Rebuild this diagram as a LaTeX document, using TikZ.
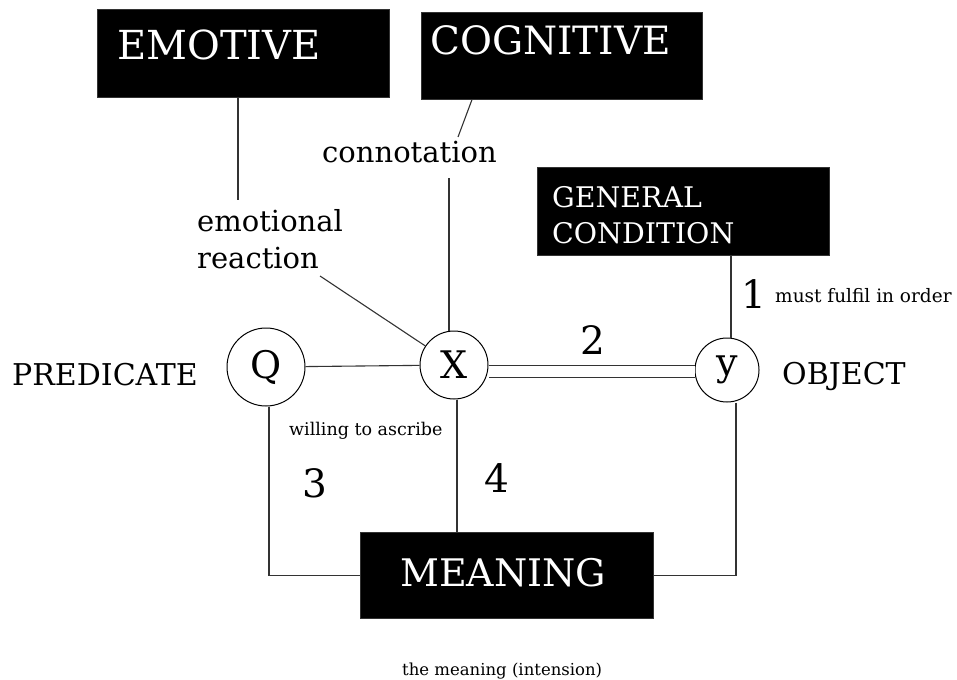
\documentclass[tikz,border=0pt]{standalone}
\usepackage{fontspec}
\setmainfont{DejaVu Serif}
\usetikzlibrary{calc}
\tikzset{
  blackbox/.style={fill=black, draw=black!80, line width=0.6pt, inner sep=0pt, anchor=north west},
  boxtext/.style={text=white, inner sep=0pt, anchor=base west},
  plain/.style={inner sep=0pt, anchor=base west},
  term/.style={draw, circle, line width=1pt, inner sep=0pt, font=\fontsize{38}{38}\selectfont},
  link/.style={line width=1.1pt, black!80},
  dbl/.style={double=white, double distance=11pt, line width=1.1pt, black!80},
}
\begin{document}
\begin{tikzpicture}[x=1pt, y=-1pt]
\useasboundingbox (0,0) rectangle (957,679);

% top boxes
\node[blackbox, minimum width=292pt, minimum height=88pt] (emotive) at (97,9) {};
\node[boxtext, font=\fontsize{40}{40}\selectfont] (emotivetxt) at (117,60) {EMOTIVE};
\node[blackbox, minimum width=281pt, minimum height=87pt] (cognitive) at (421,12) {};
\node[boxtext, font=\fontsize{39}{39}\selectfont] (cognitivetxt) at (430,55) {COGNITIVE};
\node[blackbox, minimum width=292pt, minimum height=88pt] (gc) at (537,167) {};
\node[boxtext, font=\fontsize{28.4}{28.4}\selectfont] (gc1) at (552,207) {GENERAL};
\node[boxtext, font=\fontsize{28.4}{28.4}\selectfont] (gc2) at (552,243) {CONDITION};

% meaning box
\node[blackbox, minimum width=293pt, minimum height=86pt] (meaning) at (360,532) {};
\node[boxtext, font=\fontsize{38}{38}\selectfont] (meaningtxt) at (400,586) {MEANING};

% terms
\node[term, minimum size=78pt] (Q) at (266,367) {Q};
\node[term, minimum size=68pt] (X) at (454,365) {X};
\node[term, minimum size=64pt] (Y) at (727,370) {y};

% labels
\node[plain, font=\fontsize{30}{30}\selectfont] (pred) at (12,385) {PREDICATE};
\node[plain, font=\fontsize{30}{30}\selectfont] (obj) at (782,384) {OBJECT};
\node[plain, font=\fontsize{29}{29}\selectfont] (conn) at (322,162) {connotation};
\node[plain, font=\fontsize{29}{29}\selectfont] (emo1) at (197,231) {emotional};
\node[plain, font=\fontsize{29}{29}\selectfont] (emo2) at (197,268) {reaction};
\node[plain, font=\fontsize{39}{39}\selectfont] (n1) at (741,308) {1};
\node[plain, font=\fontsize{39}{39}\selectfont] (n2) at (580,354) {2};
\node[plain, font=\fontsize{39}{39}\selectfont] (n3) at (302,497) {3};
\node[plain, font=\fontsize{39}{39}\selectfont] (n4) at (484,492) {4};
\node[plain, font=\fontsize{18.5}{18.5}\selectfont] (must) at (775,302) {must fulfil in order};
\node[plain, font=\fontsize{17.5}{17.5}\selectfont] (will) at (289,435) {willing to ascribe};
\node[plain, font=\fontsize{16.5}{16.5}\selectfont] (intens) at (402,675) {the meaning (intension)};

% free ends of the connectors
\coordinate (emoEnd) at (238,200);
\coordinate (cogEnd) at (458,137);
\coordinate (conEnd) at (449,178);
\coordinate (erEnd) at (320,276);

% connectors
\draw[link] (emotive.south -| emoEnd) -- (emoEnd);
\draw[link] (cognitive.south -| 472,0) -- (cogEnd);
\draw[link] (conEnd) -- (conEnd |- X.north);
\draw[link] (erEnd) -- (X);
\draw[link] (Q) -- (X);
\draw[dbl] (X.east |- 0,371.5) -- (Y.west |- 0,371.5);
\draw[link] ([xshift=4pt]Y.north |- gc.south) -- ([xshift=4pt]Y.north);
\draw[link] ([xshift=9pt]Y.south) |- (meaning.east);
\draw[link] ([xshift=3pt]Q.south) |- (meaning.west);
\draw[link] ([xshift=3pt]X.south) -- ([xshift=3pt]X.south |- meaning.north);
\end{tikzpicture}
\end{document}
